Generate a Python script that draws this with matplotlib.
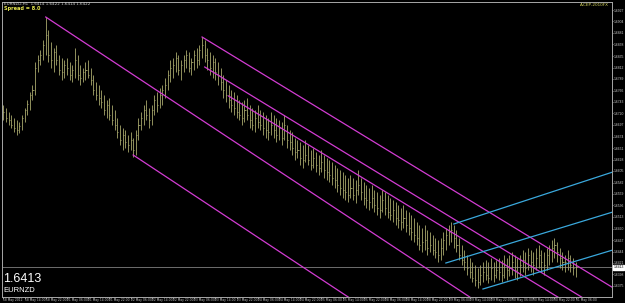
import numpy as np
import matplotlib.pyplot as plt

# EURNZD H1 bars, prices in 1/10000
hi = [16737, 16731, 16723, 16717, 16711, 16707, 16703, 16717, 16731, 16747,
      16763, 16777, 16823, 16837, 16847, 16867, 16913, 16887, 16863, 16851,
      16857, 16837, 16831, 16827, 16831, 16823, 16817, 16851, 16837, 16817,
      16811, 16823, 16827, 16811, 16797, 16783, 16777, 16767, 16757, 16747,
      16751, 16737, 16727, 16711, 16697, 16691, 16687, 16677, 16683, 16671,
      16687, 16711, 16723, 16737, 16747, 16731, 16737, 16757, 16763, 16771,
      16777, 16791, 16807, 16827, 16831, 16843, 16837, 16827, 16837, 16847,
      16843, 16831, 16847, 16851, 16857, 16873, 16867, 16851, 16843, 16837,
      16831, 16823, 16811, 16797, 16787, 16777, 16767, 16763, 16757, 16747,
      16743, 16747, 16751, 16737, 16731, 16727, 16737, 16727, 16723, 16717,
      16711, 16723, 16717, 16711, 16707, 16703, 16717, 16697, 16687, 16683,
      16671, 16667, 16663, 16657, 16667, 16657, 16647, 16651, 16643, 16637,
      16647, 16637, 16631, 16627, 16623, 16617, 16611, 16607, 16603, 16597,
      16591, 16597, 16591, 16587, 16607, 16591, 16583, 16577, 16571, 16577,
      16567, 16563, 16557, 16567, 16563, 16557, 16551, 16547, 16543, 16537,
      16531, 16537, 16527, 16523, 16517, 16511, 16503, 16497, 16491, 16497,
      16487, 16483, 16477, 16471, 16467, 16471, 16483, 16491, 16497, 16503,
      16497, 16487, 16471, 16457, 16447, 16437, 16431, 16423, 16417, 16411,
      16417, 16423, 16427, 16423, 16431, 16423, 16427, 16431, 16427, 16437,
      16431, 16437, 16443, 16437, 16431, 16437, 16447, 16443, 16451, 16447,
      16443, 16451, 16457, 16447, 16443, 16451, 16457, 16467, 16471, 16463,
      16451, 16443, 16437, 16447, 16437, 16431, 16423]
lo = [16707, 16703, 16697, 16691, 16683, 16677, 16681, 16687, 16703, 16717,
      16727, 16747, 16757, 16803, 16817, 16827, 16837, 16823, 16811, 16803,
      16817, 16797, 16787, 16791, 16797, 16787, 16783, 16791, 16787, 16777,
      16783, 16787, 16791, 16777, 16757, 16747, 16737, 16731, 16717, 16711,
      16707, 16697, 16687, 16671, 16657, 16647, 16651, 16643, 16647, 16633,
      16637, 16667, 16687, 16697, 16707, 16691, 16697, 16717, 16723, 16731,
      16737, 16751, 16767, 16783, 16791, 16803, 16797, 16787, 16803, 16811,
      16803, 16797, 16807, 16811, 16817, 16831, 16823, 16807, 16797, 16791,
      16787, 16777, 16767, 16751, 16743, 16731, 16723, 16717, 16711, 16707,
      16697, 16703, 16707, 16691, 16687, 16683, 16691, 16687, 16677, 16671,
      16667, 16677, 16671, 16663, 16667, 16657, 16667, 16651, 16647, 16637,
      16627, 16631, 16617, 16611, 16623, 16617, 16607, 16611, 16603, 16597,
      16603, 16591, 16587, 16583, 16577, 16571, 16563, 16557, 16551, 16547,
      16543, 16551, 16547, 16541, 16557, 16547, 16537, 16531, 16527, 16531,
      16523, 16517, 16511, 16523, 16517, 16511, 16507, 16503, 16497, 16491,
      16487, 16491, 16483, 16477, 16467, 16463, 16457, 16447, 16443, 16447,
      16437, 16443, 16437, 16431, 16423, 16427, 16437, 16447, 16457, 16463,
      16451, 16443, 16427, 16417, 16407, 16397, 16391, 16383, 16375, 16371,
      16377, 16383, 16387, 16381, 16387, 16383, 16391, 16387, 16383, 16391,
      16387, 16395, 16397, 16391, 16387, 16395, 16403, 16397, 16407, 16403,
      16397, 16407, 16411, 16403, 16397, 16407, 16417, 16423, 16431, 16423,
      16411, 16407, 16403, 16407, 16403, 16397, 16393]
cl = [16723, 16711, 16707, 16697, 16691, 16687, 16695, 16711, 16727, 16739,
      16757, 16767, 16811, 16827, 16837, 16857, 16877, 16837, 16827, 16843,
      16827, 16807, 16803, 16817, 16811, 16797, 16807, 16827, 16797, 16791,
      16803, 16807, 16797, 16787, 16767, 16757, 16751, 16743, 16727, 16737,
      16717, 16707, 16697, 16683, 16667, 16677, 16663, 16657, 16667, 16647,
      16677, 16697, 16711, 16727, 16717, 16707, 16727, 16747, 16737, 16757,
      16767, 16777, 16797, 16811, 16817, 16831, 16807, 16817, 16827, 16837,
      16811, 16823, 16837, 16827, 16847, 16857, 16837, 16827, 16811, 16823,
      16803, 16797, 16783, 16767, 16757, 16747, 16737, 16731, 16723, 16717,
      16711, 16727, 16717, 16707, 16697, 16711, 16703, 16697, 16691, 16687,
      16683, 16697, 16687, 16677, 16691, 16671, 16697, 16667, 16663, 16651,
      16643, 16647, 16631, 16627, 16637, 16627, 16617, 16631, 16617, 16611,
      16623, 16607, 16603, 16597, 16591, 16587, 16577, 16571, 16567, 16563,
      16557, 16571, 16557, 16567, 16577, 16563, 16551, 16547, 16543, 16551,
      16537, 16531, 16527, 16547, 16531, 16523, 16517, 16527, 16511, 16507,
      16503, 16511, 16497, 16491, 16483, 16477, 16471, 16457, 16463, 16467,
      16451, 16457, 16447, 16443, 16437, 16451, 16467, 16477, 16483, 16487,
      16471, 16457, 16437, 16427, 16423, 16411, 16403, 16391, 16387, 16383,
      16397, 16403, 16397, 16391, 16411, 16397, 16407, 16403, 16397, 16417,
      16407, 16411, 16423, 16407, 16403, 16417, 16427, 16411, 16437, 16423,
      16417, 16431, 16437, 16423, 16417, 16437, 16447, 16451, 16457, 16443,
      16431, 16423, 16423, 16431, 16417, 16411, 16413]

date_labels = ["18 May 2012", "18 May 14:00", "18 May 22:00", "21 May 06:00",
               "21 May 14:00", "21 May 22:00", "22 May 06:00", "22 May 14:00",
               "22 May 22:00", "23 May 06:00", "23 May 14:00", "23 May 22:00",
               "24 May 06:00", "24 May 14:00", "24 May 22:00", "25 May 06:00",
               "25 May 14:00", "25 May 22:00", "28 May 06:00", "28 May 14:00",
               "28 May 22:00", "29 May 06:00", "29 May 14:00", "29 May 22:00",
               "30 May 06:00", "30 May 14:00", "30 May 22:00", "31 May 06:00"]

# trend lines as rays: start bar, start price, second bar, second price
mag_b0 = [16, 49, 75, 76, 85]
mag_p0 = [1.6913, 1.6637, 1.6873, 1.6813, 1.6755]
mag_b1 = [176, 209, 229, 229, 229]
mag_p1 = [1.6353, 1.6077, 1.6375, 1.6318, 1.6289]

cyan_b0 = [170, 167, 181]
cyan_p0 = [1.6499, 1.6421, 1.6369]
cyan_b1 = [230, 230, 230]
cyan_p1 = [1.6603, 1.6523, 1.6447]

last_price = 1.6413

W, H = 625, 303
fig = plt.figure(figsize=(W / 100, H / 100), dpi=100)
fig.patch.set_facecolor('black')
ax = fig.add_axes([2 / W, (H - 296.5) / H, 610 / W, 295 / H])
ax.set_facecolor('black')

n = len(cl)
idx = np.arange(n)
hi_p = np.array(hi) / 10000
lo_p = np.array(lo) / 10000
cl_p = np.array(cl) / 10000
bar_col = '#a8a86c'
ax.vlines(idx, lo_p, hi_p, color=bar_col, lw=0.6)
ax.hlines(cl_p, idx, idx + 0.4, color=bar_col, lw=0.6)

ax.axhline(last_price, color='#6e6e6e', lw=0.7, zorder=1)

for b0, p0, b1, p1 in zip(mag_b0, mag_p0, mag_b1, mag_p1):
    s = (p1 - p0) / (b1 - b0)
    ax.plot([b0, 260], [p0, p0 + s * (260 - b0)], color='#d23cd2', lw=0.9)
for b0, p0, b1, p1 in zip(cyan_b0, cyan_p0, cyan_b1, cyan_p1):
    s = (p1 - p0) / (b1 - b0)
    ax.plot([b0, 260], [p0, p0 + s * (260 - b0)], color='#3aa8dc', lw=0.9)

ax.set_xlim(-0.5, 229.7)
ax.set_ylim(1.6354, 1.6944)

for sp in ax.spines.values():
    sp.set_color('#a8a8a8')
    sp.set_linewidth(0.7)

yt = 1.6927 - 0.0023 * np.arange(25)
ax.yaxis.tick_right()
ax.set_yticks(yt)
ax.set_yticklabels(['%.4f' % v for v in yt], family='Liberation Sans')
ax.tick_params(axis='y', colors='#c8c8c8', labelsize=2.4, length=1, width=0.5, pad=0.4)

ax.set_xticks(np.arange(len(date_labels)) * 8)
ax.set_xticklabels(date_labels)
ax.tick_params(axis='x', colors='#c8c8c8', labelsize=2.2, length=1.2, width=0.5, pad=0)
for lbl in ax.get_xticklabels():
    lbl.set_ha('left')

ax.text(1.0025, last_price, '%.4f' % last_price, transform=ax.get_yaxis_transform(),
        fontsize=2.4, family='Liberation Sans', color='black', va='center', ha='left',
        zorder=10, clip_on=False,
        bbox=dict(boxstyle='square,pad=0.15', fc='white', ec='white'))

fig.text(4 / W, 1 - 4 / H, 'EURNZD,H1  1.6414 1.6422 1.6414 1.6422', fontsize=3,
         color='#d0d0d0', va='center', ha='left')
fig.text(4 / W, 1 - 8.5 / H, 'Spread = 8.0', fontsize=3.6, color='#e8e850',
         fontweight='bold', va='center', ha='left')
fig.text(609 / W, 1 - 5 / H, 'A.CEP-2010FX', fontsize=3, color='#d8d860',
         va='center', ha='right')
fig.text(3 / W, 1 - 279 / H, '%.4f' % last_price, fontsize=9, color='white',
         family='Liberation Sans', va='center', ha='left')
fig.text(3 / W, 1 - 291 / H, 'EURNZD', fontsize=5.5, color='white',
         family='Liberation Sans', va='center', ha='left')

fig.savefig('out.png', dpi=100, facecolor='black')
